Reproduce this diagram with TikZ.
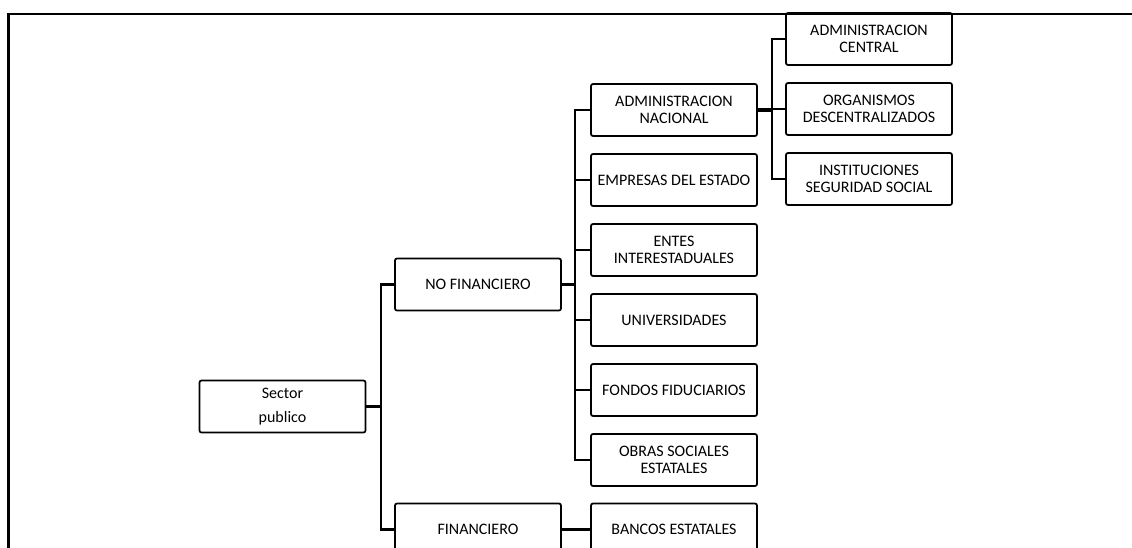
\documentclass[tikz,border=0pt]{standalone}
\usepackage{fontspec}
\setmainfont{Carlito}
\usepackage{tikz}
\usetikzlibrary{positioning}

\begin{document}
\begin{tikzpicture}[x=0.75pt, y=-0.75pt, node distance=13.5pt,
    every node/.style={font=\fontsize{12}{12.75}\selectfont},
    caja/.style={draw, line width=1.3pt, rounded corners=1.5pt, align=center,
      minimum width=124.5pt, minimum height=39pt, inner sep=0pt, outer sep=0pt},
    rama/.style={line width=1.8pt},
    grueso/.style={line width=2.8pt},
    marco/.style={line width=2pt}]
    \clip (0,0) rectangle (1132,547);
    % marco de la pagina
    \draw[marco] (8.5,560) |- (1140,14);
    % nivel 1
    \node[caja] (sp) at (282.5,406.5) {Sector\\[5pt]publico};
    % nivel 2
    \node[caja] (nf) at (478,284.5) {NO FINANCIERO};
    \node[caja] (fin) at (478,529.5) {FINANCIERO};
    % nivel 3
    \node[caja] (an) at (674,110) {ADMINISTRACION\\NACIONAL};
    \node[caja,below=of an] (ee) {EMPRESAS DEL ESTADO};
    \node[caja,below=of ee] (ei) {ENTES\\INTERESTADUALES};
    \node[caja,below=of ei] (un) {UNIVERSIDADES};
    \node[caja,below=of un] (ff) {FONDOS FIDUCIARIOS};
    \node[caja,below=of ff] (os) {OBRAS SOCIALES\\ESTATALES};
    \node[caja] (be) at (674,529.5) {BANCOS ESTATALES};
    % nivel 4
    \node[caja] (ac) at (869,39) {ADMINISTRACION\\CENTRAL};
    \node[caja,below=of ac] (od) {ORGANISMOS\\DESCENTRALIZADOS};
    \node[caja,below=of od] (is) {INSTITUCIONES\\SEGURIDAD SOCIAL};
    % conectores
    \draw[grueso] (sp.east) -- ++(15,0);
    \draw[rama] (nf.west) -- ++(-14,0) |- (fin.west);
    \draw[grueso] (nf.east) -- ++(14,0);
    \draw[rama] (an.west) -- ++(-16,0) |- (os.west);
    \foreach \n in {ee,ei,un,ff}
      \draw[rama] (\n.west) -- ++(-16,0);
    \draw[grueso] (an.east) -- ++(15,0);
    \draw[rama] (ac.west) -- ++(-14,0) |- (is.west);
    \draw[rama] (od.west) -- ++(-14,0);
    \draw[grueso] (fin) -- (be);
  \end{tikzpicture}
\end{document}
